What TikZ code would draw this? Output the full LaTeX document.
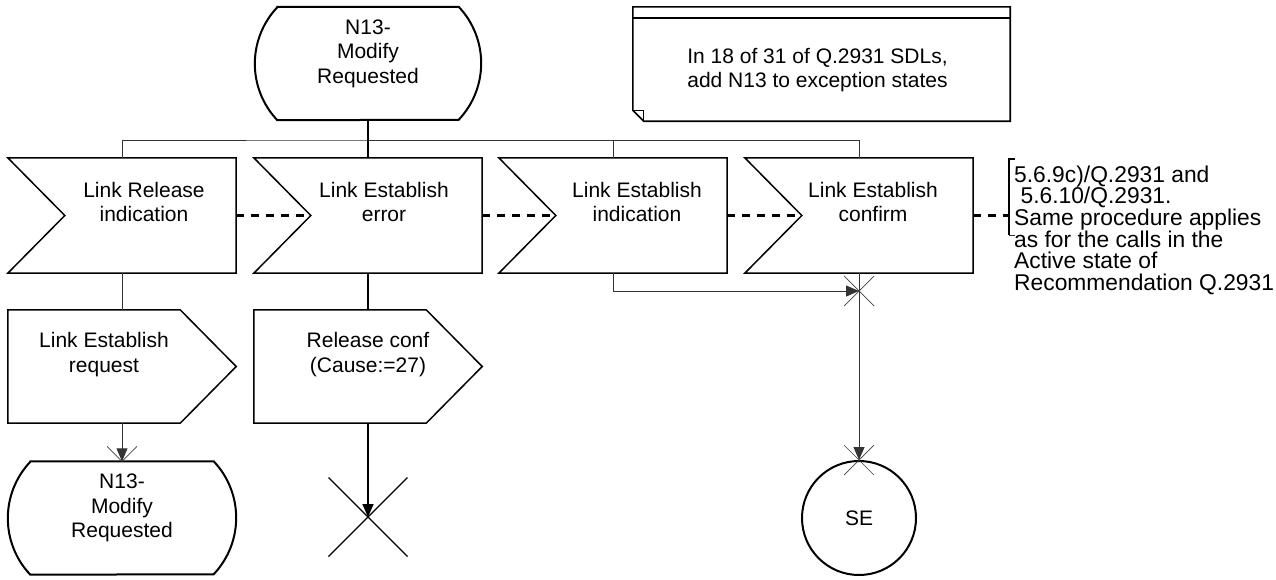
\documentclass[tikz,border=0pt]{standalone}
\usepackage{fontspec}
\setmainfont{Liberation Sans}
\usetikzlibrary{arrows.meta}

\begin{document}
\begin{tikzpicture}[x=1pt,y=1pt,
  txt/.style={font=\fontsize{21}{24.5}\selectfont, align=center, inner sep=0pt},
  box/.style={inner sep=0pt, minimum width=228pt},
  inbox/.style={box, minimum height=115pt},
  outbox/.style={box, minimum height=113pt},
  statebox/.style={box, minimum width=226pt, minimum height=113pt},
  intext/.style={txt, yshift=13.5pt},
  outtext/.style={txt, yshift=12pt},
  statetext/.style={txt, yshift=10pt},
  boxline/.style={line width=1.5pt, line join=miter},
  stateline/.style={line width=2pt},
  conn/.style={line width=0.9pt, black!80},
  mainconn/.style={line width=1.6pt},
  arr/.style={-{Triangle[length=13pt,width=11pt]}},
  xmark/.style={line width=0.7pt, black!75},
  dashline/.style={line width=2.2pt, dash pattern=on 8pt off 7pt}]
\useasboundingbox (0,0) rectangle (1276,-579);

\node[statebox, label={[statetext]center:{N13-\\Modify\\Requested}}] (st1) at (368,-63.5) {};
\node[inbox, label={[intext, xshift=22pt]center:{Link Release\\indication}}] (in1) at (122,-215.5) {};
\node[inbox, label={[intext, xshift=16pt]center:{Link Establish\\error}}] (in2) at (368,-215.5) {};
\node[inbox, label={[intext, xshift=24pt]center:{Link Establish\\indication}}] (in3) at (613,-215.5) {};
\node[inbox, label={[intext, xshift=14pt]center:{Link Establish\\confirm}}] (in4) at (859,-215.5) {};
\node[outbox, label={[outtext, xshift=-18pt]center:{Link Establish\\request}}] (out1) at (122,-366.5) {};
\node[outbox, label={[outtext]center:{Release conf\\(Cause:=27)}}] (out2) at (368,-366.5) {};
\node[statebox, minimum width=228pt, label={[statetext]center:{N13-\\Modify\\Requested}}] (st2) at (122,-518) {};
\node[circle, draw, stateline, minimum size=114pt, inner sep=0pt, txt] (se) at (859,-518) {SE};
\coordinate (stop) at (368,-517);
\coordinate (br) at (368,-140);
\coordinate (jn) at (859,-291);

\node[box, minimum width=377pt, minimum height=114pt,
  label={[txt, xshift=-4pt, yshift=-6pt]center:{In 18 of 31 of Q.2931 SDLs,\\add N13 to exception states}}] (note) at (821.5,-64) {};
\node[txt, font=\fontsize{22.8}{21.6}\selectfont, align=left, anchor=north west] (ann) at (1014,-165.5)
  {5.6.9c)/Q.2931 and\\\hspace*{.28em}5.6.10/Q.2931.\\Same procedure applies\\as for the calls in the\\Active state of\\Recommendation Q.2931};

% symbol outlines
\foreach \n in {st1,st2}
  \draw[stateline] ([xshift=22.5pt]\n.north west) -- ([xshift=-22.5pt]\n.north east)
    arc[start angle=43.4, end angle=-43.4, radius=82.2] -- ([xshift=22.5pt]\n.south west)
    arc[start angle=223.4, end angle=136.6, radius=82.2] -- cycle;
\foreach \n in {in1,in2,in3,in4}
  \draw[boxline] (\n.north west) -- (\n.north east) -- (\n.south east) -- (\n.south west)
    -- ([xshift=57pt]\n.west) -- cycle;
\foreach \n in {out1,out2}
  \draw[boxline] (\n.north west) -- ([xshift=-56pt]\n.north east) -- (\n.east)
    -- ([xshift=-56pt]\n.south east) -- (\n.south west) -- cycle;
\draw[line width=1.6pt] (note.north west) -- (note.north east) -- (note.south east)
  -- ([xshift=11pt]note.south west) -- ([yshift=11pt]note.south west) -- cycle;
\draw[line width=1.6pt] ([yshift=-11pt]note.north west) -- ([yshift=-11pt]note.north east);
\draw[line width=1.2pt] ([yshift=11pt]note.south west) -- ([xshift=11pt,yshift=11pt]note.south west)
  -- ([xshift=11pt]note.south west);
\draw[stateline] ([xshift=1pt,yshift=6.5pt]ann.north west) -- ++(-6,0) -- ++(0,-76);
\draw[conn] ([xshift=-5pt,yshift=-69.5pt]ann.north west) -- ++(6,0);

% connections
\draw[mainconn] (st1) -- (in2);
\draw[conn] (in1.north) |- (br) -| (in4.north);
\draw[conn] (br) -| (in3.north);
\draw[dashline] (in1.east) -- ([xshift=57pt]in2.west);
\draw[dashline] (in2.east) -- ([xshift=57pt]in3.west);
\draw[dashline] (in3.east) -- ([xshift=57pt]in4.west);
\draw[dashline] (in4.east) -- (in4.east -| 1008,0);
\draw[conn] (in1) -- (out1);
\draw[mainconn] (in2) -- (out2);
\draw[conn, arr] (out1) -- (st2);
\draw[xmark] (st2.north) ++(-15,15) -- (st2.north) -- ++(15,15);
\draw[mainconn, arr] (out2) -- (stop);
\draw[line width=1.2pt] (stop) ++(-39.5,39.5) -- ++(79,-79) (stop) ++(39.5,39.5) -- ++(-79,-79);
\draw[conn, arr] (in3) |- (jn);
\draw[xmark] (jn) ++(-15,15) -- ++(30,-30) (jn) ++(15,15) -- ++(-30,-30);
\draw[conn, arr] (in4) -- (se);
\draw[xmark] (se.north) ++(-15,15) -- ++(30,-30) (se.north) ++(15,15) -- ++(-30,-30);
\end{tikzpicture}
\end{document}
